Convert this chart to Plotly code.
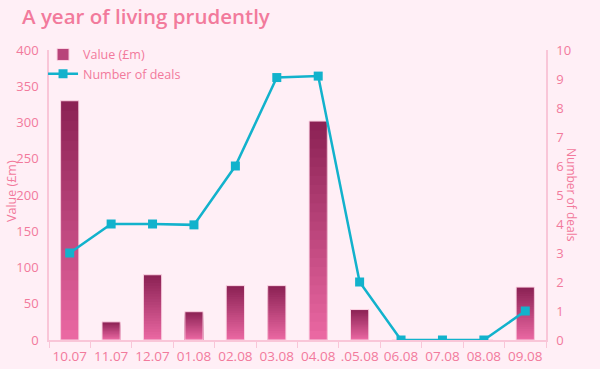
import plotly.graph_objects as go
import numpy as np

categories = ["10.07", "11.07", "12.07", "01.08", "02.08", "03.08", "04.08",
              ".05.08", "06.08", "07.08", "08.08", "09.08"]
value_m = [330, 25, 90, 39, 75, 75, 302, 42, 0, 0, 0, 73]
deals = [3, 4, 4, 3.97, 6, 9.05, 9.1, 2, 0, 0, 0, 1]

left_ticks = list(range(0, 401, 50))
right_ticks = list(range(0, 11))

PINK_TXT = "#F27A9C"
AXIS = "#F9C6D8"
BG = "#FFEFF6"
TOP = np.array([0x8C, 0x22, 0x55])
BOT = np.array([0xEA, 0x68, 0xA2])
CYAN = "#12B2CC"

fig = go.Figure()
N = 24
vals = np.array(value_m, dtype=float)
for i in range(N):
    f = 1 - i / N
    c = TOP + (BOT - TOP) * (i / (N - 1))
    col = "rgb(%d,%d,%d)" % tuple(c.astype(int))
    fig.add_trace(go.Bar(
        x=categories, y=vals * f, marker=dict(color=col, line=dict(width=0)),
        width=0.44, showlegend=False, hoverinfo="skip", yaxis="y"))
fig.add_trace(go.Bar(
    x=categories, y=vals, name="Value (£m)",
    marker=dict(color="rgba(0,0,0,0)", line=dict(color="#FBD3E3", width=1)),
    width=0.44, showlegend=False, yaxis="y"))
fig.add_trace(go.Bar(
    x=[None], y=[None], name="Value (£m)",
    marker=dict(color="#B8447A", line=dict(color="#FBD3E3", width=1)),
    showlegend=True))

fig.add_trace(go.Scatter(
    x=categories, y=deals, name="Number of deals", yaxis="y2",
    mode="lines+markers", line=dict(color=CYAN, width=2.5),
    marker=dict(symbol="square", size=9, color=CYAN)))

font = "'Open Sans', sans-serif"
fig.update_layout(
    width=600, height=369,
    paper_bgcolor=BG, plot_bgcolor=BG,
    margin=dict(l=49, r=54, t=50, b=29, autoexpand=False),
    barmode="overlay", bargap=0.5,
    font=dict(family=font, color=PINK_TXT, size=13),
    title=dict(text="A year of living prudently", x=22 / 600, xanchor="left",
               y=1 - 17 / 369, yanchor="middle",
               font=dict(size=20.5, color=PINK_TXT, family=font, weight=600)),
    showlegend=True,
    legend=dict(x=-0.012, y=1.035, xanchor="left", yanchor="top",
                bgcolor="rgba(0,0,0,0)", font=dict(size=12.5, color=PINK_TXT),
                tracegroupgap=4, itemwidth=30),
    xaxis=dict(showgrid=False, showline=True, linecolor=AXIS, linewidth=1.5,
               ticks="outside", tickson="boundaries", tickcolor=AXIS, ticklen=6,
               tickangle=0, automargin=False, ticklabelstandoff=3,
               tickfont=dict(size=13.5, color=PINK_TXT), zeroline=False,
               range=[-0.5, 11.5]),
    yaxis=dict(range=[0, 400], tickvals=left_ticks, showgrid=False, automargin=False,
               showline=True, linecolor=AXIS, linewidth=1.5, zeroline=False,
               tickfont=dict(size=13, color=PINK_TXT), ticks="", ticklabelstandoff=6),
    yaxis2=dict(range=[0, 10], tickvals=right_ticks, overlaying="y", side="right",
                showgrid=False, showline=True, linecolor=AXIS, linewidth=1.5,
                automargin=False,
                zeroline=False, tickfont=dict(size=13, color=PINK_TXT), ticks="",
                ticklabelstandoff=6),
)
pw, ph = 600 - 49 - 54, 369 - 50 - 29
def px2paper(px, py):
    return (px - 49) / pw, (369 - 29 - py) / ph
ax1 = px2paper(11, 191)
ax2 = px2paper(572, 195)
fig.add_annotation(text="Value (£m)", x=ax1[0], y=ax1[1], xref="paper", yref="paper",
                   showarrow=False, textangle=-90, xanchor="center", yanchor="middle",
                   font=dict(size=12.5, color=PINK_TXT))
fig.add_annotation(text="Number of deals", x=ax2[0], y=ax2[1], xref="paper", yref="paper",
                   showarrow=False, textangle=90, xanchor="center", yanchor="middle",
                   font=dict(size=12, color=PINK_TXT))

fig.write_html("out.html", config={"displayModeBar": False})
with open("out.html", encoding="utf-8") as fh:
    html = fh.read()
html = html.replace("<head>", "<head><style>html,body{margin:0;padding:0;overflow:hidden;background:#FFEFF6}</style>", 1)
with open("out.html", "w", encoding="utf-8") as fh:
    fh.write(html)
